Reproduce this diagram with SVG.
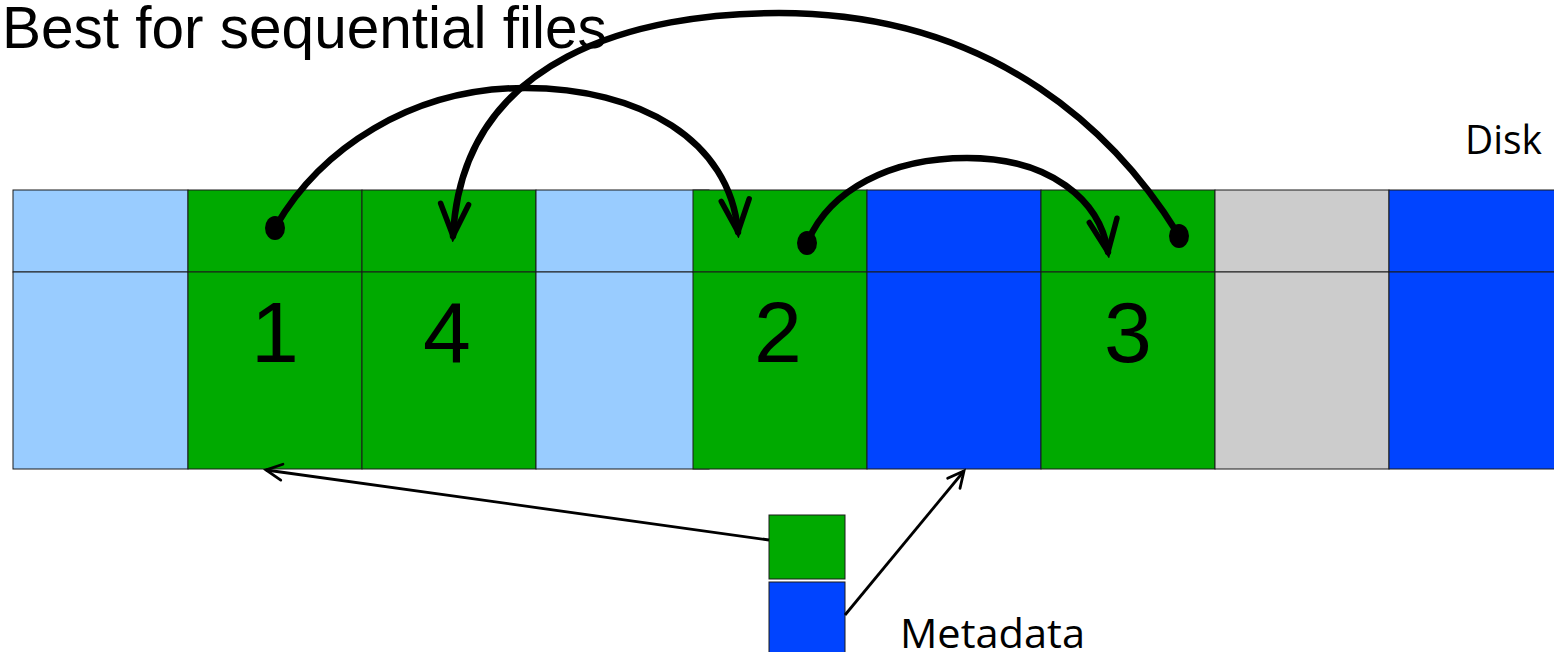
<svg xmlns="http://www.w3.org/2000/svg" width="1554" height="652" viewBox="0 0 1554 652">
<style>
.cell{stroke:#1a1a1a;stroke-width:1}
.lb{fill:#99CCFF}.gr{fill:#00AA00}.bl{fill:#0044FF}.gy{fill:#CCCCCC}
.num{font-family:"Liberation Sans",Arial,sans-serif;font-size:86px;fill:#000;text-anchor:middle}
.lbl{font-family:"Open Sans","Noto Sans",sans-serif;font-size:41px;fill:#000}
.arc{fill:none;stroke:#000;stroke-width:6.5;stroke-linecap:round;marker-end:url(#vbig)}
.thin{fill:none;stroke:#000;stroke-width:2.8;marker-end:url(#vsmall)}
</style>
<defs>
<marker id="vbig" markerUnits="userSpaceOnUse" viewBox="-38 -22 44 44" markerWidth="44" markerHeight="44" refX="0" refY="0" orient="auto">
<path d="M-32,-14 L0,0 L-32,14" fill="none" stroke="#000" stroke-width="5.5" stroke-linejoin="miter" stroke-linecap="round"/>
</marker>
<marker id="vsmall" markerUnits="userSpaceOnUse" viewBox="-20 -12 24 24" markerWidth="24" markerHeight="24" refX="0" refY="0" orient="auto">
<path d="M-16,-8 L0,0 L-16,8" fill="none" stroke="#000" stroke-width="2.8" stroke-linecap="round"/>
</marker>
</defs>
<rect width="1554" height="652" fill="#fff"/>
<text x="2" y="48" style="font-family:'Liberation Sans',Arial,sans-serif;font-size:58.5px;fill:#000">Best for sequential files</text>
<g id="cell-0"><rect class="cell lb" x="13" y="190" width="175" height="82"/><rect class="cell lb" x="13" y="272" width="175" height="197"/></g>
<g id="cell-1"><rect class="cell gr" x="188" y="190" width="174" height="82"/><rect class="cell gr" x="188" y="272" width="174" height="197"/><text class="num" x="275" y="362">1</text></g>
<g id="cell-2"><rect class="cell gr" x="362" y="190" width="174" height="82"/><rect class="cell gr" x="362" y="272" width="174" height="197"/><text class="num" x="447" y="362">4</text></g>
<g id="cell-3"><rect class="cell lb" x="536" y="190" width="173" height="82"/><rect class="cell lb" x="536" y="272" width="173" height="197"/></g>
<g id="cell-4"><rect class="cell gr" x="693" y="190" width="174" height="82"/><rect class="cell gr" x="693" y="272" width="174" height="197"/><text class="num" x="778" y="362">2</text></g>
<g id="cell-5"><rect class="cell bl" x="867" y="190" width="174" height="82"/><rect class="cell bl" x="867" y="272" width="174" height="197"/></g>
<g id="cell-6"><rect class="cell gr" x="1041" y="190" width="174" height="82"/><rect class="cell gr" x="1041" y="272" width="174" height="197"/><text class="num" x="1128" y="362">3</text></g>
<g id="cell-7"><rect class="cell gy" x="1215" y="190" width="174" height="82"/><rect class="cell gy" x="1215" y="272" width="174" height="197"/></g>
<g id="cell-8"><rect class="cell bl" x="1389" y="190" width="170" height="82"/><rect class="cell bl" x="1389" y="272" width="170" height="197"/></g>
<g id="disk-label"><text class="lbl" x="1465" y="154" textLength="77" lengthAdjust="spacingAndGlyphs">Disk</text></g>
<g id="metadata">
<rect class="cell gr" x="769" y="515" width="76" height="64"/>
<rect class="cell bl" x="769" y="582" width="76" height="74"/>
<text class="lbl" x="900" y="648" textLength="185" lengthAdjust="spacingAndGlyphs">Metadata</text>
</g>
<g id="connectors">
<path class="arc" d="M276,226 C320,150 410,88 525,88 C640,88 730,140 738,232"/>
<path class="arc" d="M1178,234 C1120,140 1000,13 779,13 C640,13 462,55 453,236"/>
<path class="arc" d="M808,241 C830,190 890,158 967,158 C1050,158 1100,200 1108,252"/>
<ellipse cx="275" cy="228" rx="10" ry="12" fill="#000"/>
<ellipse cx="807" cy="243" rx="10" ry="12" fill="#000"/>
<ellipse cx="1179" cy="236" rx="10" ry="12" fill="#000"/>
<path class="thin" d="M769,540 L266,470"/>
<path class="thin" d="M845,615 L964,471"/>
</g>
</svg>
